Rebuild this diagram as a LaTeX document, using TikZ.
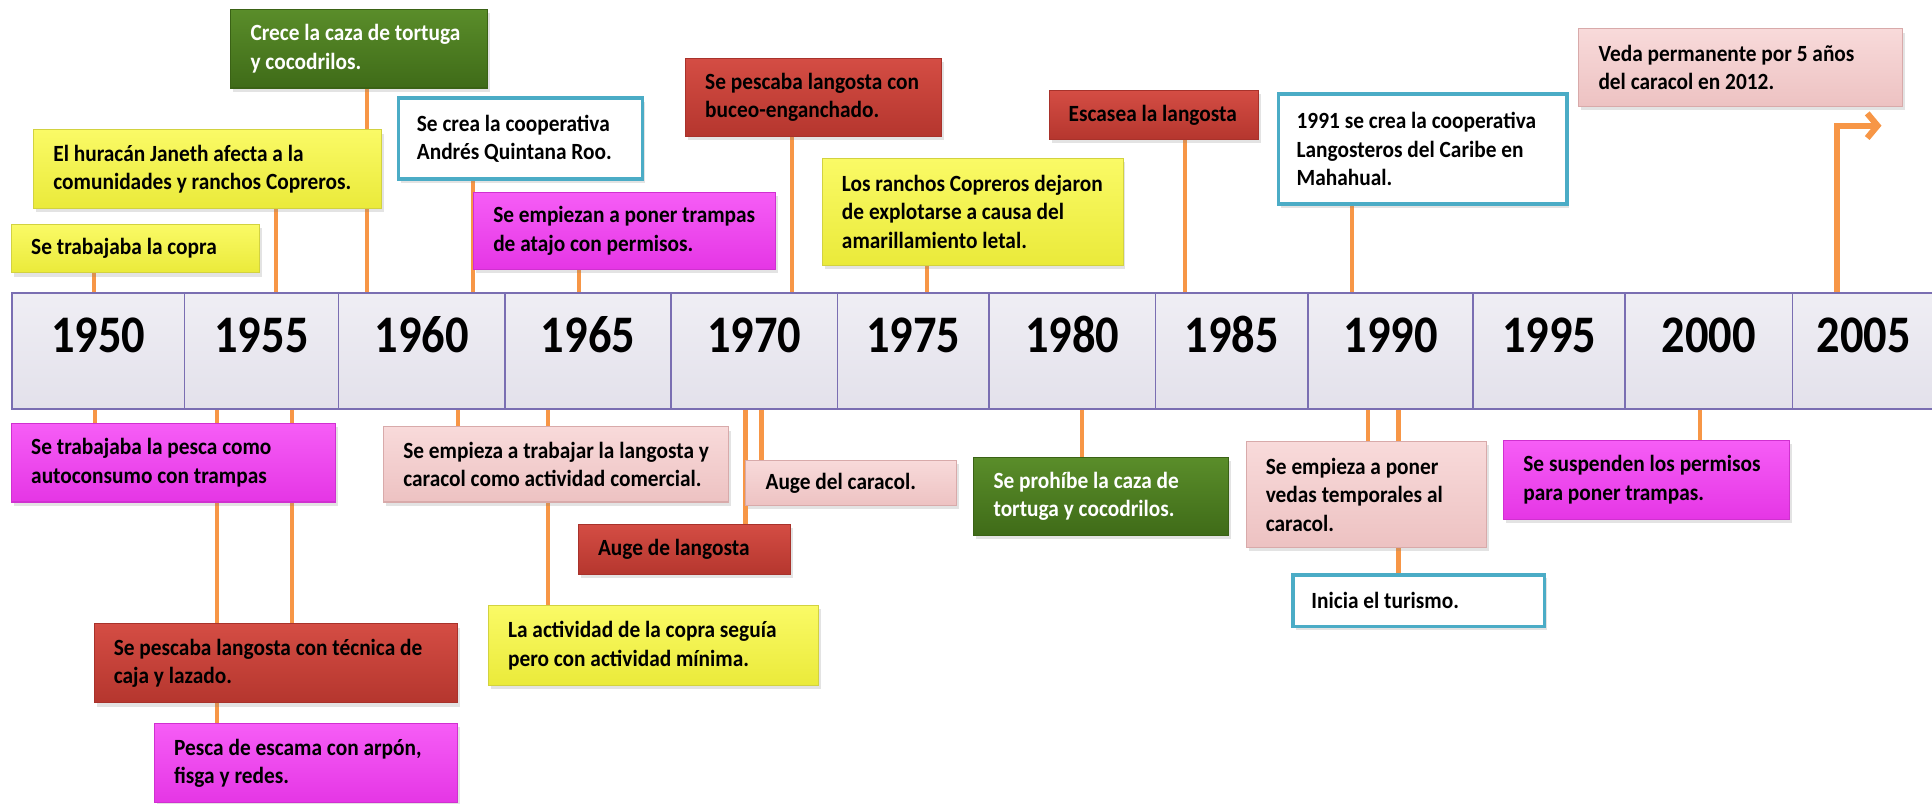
\documentclass[tikz,border=0pt]{standalone}
\usepackage{fontspec}
\newfontfamily\evfont{Carlito}[FakeStretch=0.92]
\newfontfamily\yrfont{Carlito}[FakeStretch=0.88]
\usetikzlibrary{shadows,arrows.meta}
\pgfdeclarelayer{links}
\pgfsetlayers{links,main}

\definecolor{linkorange}{HTML}{F79646}
\definecolor{cellline}{HTML}{7A6EB2}
\definecolor{celltop}{HTML}{EFEEF4}
\definecolor{cellbot}{HTML}{E3E1EB}
\definecolor{yeltop}{HTML}{FAFA66}
\definecolor{yelbot}{HTML}{EAEA3A}
\definecolor{yelline}{HTML}{D2D240}
\definecolor{grntop}{HTML}{5A8D2A}
\definecolor{grnbot}{HTML}{3F6B18}
\definecolor{grnline}{HTML}{3A6215}
\definecolor{redtop}{HTML}{D44D44}
\definecolor{redbot}{HTML}{B5362E}
\definecolor{redline}{HTML}{A8322B}
\definecolor{magtop}{HTML}{F65DF6}
\definecolor{magbot}{HTML}{E536E5}
\definecolor{magline}{HTML}{D030D0}
\definecolor{pnktop}{HTML}{F8DADA}
\definecolor{pnkbot}{HTML}{EDC2C2}
\definecolor{pnkline}{HTML}{D8AAAA}
\definecolor{tealline}{HTML}{4BACC6}

\tikzset{
  evbase/.style={inner sep=0pt, line width=0.5pt,
    drop shadow={opacity=0.22, shadow xshift=1.2pt, shadow yshift=-1.8pt}},
  yelbox/.style={evbase, draw=yelline, top color=yeltop, bottom color=yelbot},
  grnbox/.style={evbase, draw=grnline, top color=grntop, bottom color=grnbot},
  redbox/.style={evbase, draw=redline, top color=redtop, bottom color=redbot},
  magbox/.style={evbase, draw=magline, top color=magtop, bottom color=magbot},
  pnkbox/.style={evbase, draw=pnkline, top color=pnktop, bottom color=pnkbot},
  tealbox/.style={evbase, draw=tealline, line width=1.8pt, fill=white},
  evtext/.style={anchor=west, inner sep=0pt, align=left, text=black,
    font=\evfont\bfseries\fontsize{11.3}{13.8}\selectfont},
  evlight/.style={evtext, text=white},
  yearcell/.style={draw=cellline, line width=0.9pt, top color=celltop,
    bottom color=cellbot, inner sep=0pt, text height=29.1pt, text depth=27.3pt,
    font=\yrfont\bfseries\fontsize{25.7}{30}\selectfont},
  link/.style={draw=linkorange, line width=2pt},
  bigarrow/.style={draw=linkorange, line width=3pt,
    -{Straight Barb[length=5pt,width=12pt]}},
}

% event box: name, box style, text style, x1, y1, x2, y2, text
\newcommand\evbox[8]{%
  \pgfmathsetmacro\tlbw{(#6-#4)*0.6}%
  \pgfmathsetmacro\tlbh{(#7-#5)*0.6}%
  \node[#2, minimum width=\tlbw pt, minimum height=\tlbh pt, anchor=north west] (#1) at (#4,#5) {};%
  \node[#3] (#1t) at ([xshift=9.6pt]#1.west) {#8};%
}
% year cell of the time bar: name, x1, x2, label
\newcommand\yearcell[4]{%
  \pgfmathsetmacro\tlcw{(#3-#2)*0.6}%
  \node[yearcell, minimum width=\tlcw pt, anchor=north west] (#1) at (#2,237) {#4};%
}

\begin{document}
\begin{tikzpicture}[x=0.6pt, y=-0.6pt]
\useasboundingbox (0,0) rectangle (1568,652);
\clip (0,0) rectangle (1568,652);

% time bar
\yearcell{y1950}{9}{149}{1950}
\yearcell{y1955}{149}{274}{1955}
\yearcell{y1960}{274}{409}{1960}
\yearcell{y1965}{409}{544}{1965}
\yearcell{y1970}{544}{679}{1970}
\yearcell{y1975}{679}{802}{1975}
\yearcell{y1980}{802}{937}{1980}
\yearcell{y1985}{937}{1061}{1985}
\yearcell{y1990}{1061}{1195}{1990}
\yearcell{y1995}{1195}{1318}{1995}
\yearcell{y2000}{1318}{1454}{2000}
\yearcell{y2005}{1454}{1570}{2005}

% events above the bar
\evbox{b1}{yelbox}{evtext}{9}{182}{210}{221}{Se trabajaba la copra}
\evbox{b2}{yelbox}{evtext}{27}{105}{309}{169}{El huracán Janeth afecta a la\\comunidades y ranchos Copreros.}
\evbox{b3}{grnbox}{evlight}{187}{7}{395}{71}{Crece la caza de tortuga\\y cocodrilos.}
\evbox{b4}{tealbox}{evtext}{322}{78}{520}{144}{Se crea la cooperativa\\Andrés Quintana Roo.}
\evbox{b5}{magbox}{evtext}{384}{156}{629}{218}{Se empiezan a poner trampas\\de atajo con permisos.}
\evbox{b6}{redbox}{evtext}{556}{47}{764}{110}{Se pescaba langosta con\\buceo-enganchado.}
\evbox{b7}{yelbox}{evtext}{667}{128}{911}{215}{Los ranchos Copreros dejaron\\de explotarse a causa del\\amarillamiento letal.}
\evbox{b8}{redbox}{evtext}{851}{73}{1021}{113}{Escasea la langosta}
\evbox{b9}{tealbox}{evtext}{1036}{75}{1270}{164}{1991 se crea la cooperativa\\Langosteros del Caribe en\\Mahahual.}
\evbox{b10}{pnkbox}{evtext}{1281}{23}{1544}{86}{Veda permanente por 5 años\\del caracol en 2012.}

% events below the bar
\evbox{b11}{magbox}{evtext}{9}{343}{272}{407}{Se trabajaba la pesca como\\autoconsumo con trampas}
\evbox{b12}{redbox}{evtext}{76}{506}{371}{570}{Se pescaba langosta con técnica de\\caja y lazado.}
\evbox{b13}{magbox}{evtext}{125}{587}{371}{651}{Pesca de escama con arpón,\\fisga y redes.}
\evbox{b14}{pnkbox}{evtext}{311}{346}{591}{407}{Se empieza a trabajar la langosta y\\caracol como actividad comercial.}
\evbox{b15}{redbox}{evtext}{469}{425}{641}{466}{Auge de langosta}
\evbox{b16}{yelbox}{evtext}{396}{491}{664}{556}{La actividad de la copra seguía\\pero con actividad mínima.}
\evbox{b17}{pnkbox}{evtext}{605}{373}{776}{410}{Auge del caracol.}
\evbox{b18}{grnbox}{evlight}{790}{371}{997}{434}{Se prohíbe la caza de\\tortuga y cocodrilos.}
\evbox{b19}{pnkbox}{evtext}{1011}{358}{1206}{444}{Se empieza a poner\\vedas temporales al\\caracol.}
\evbox{b20}{tealbox}{evtext}{1048}{465}{1252}{507}{Inicia el turismo.}
\evbox{b21}{magbox}{evtext}{1220}{357}{1452}{421}{Se suspenden los permisos\\para poner trampas.}

% vertical positions of the links along the bar
\coordinate (t1) at (76,0);
\coordinate (t2) at (224,0);
\coordinate (t3) at (298,0);
\coordinate (t4) at (384,0);
\coordinate (t5) at (470,0);
\coordinate (t6) at (643,0);
\coordinate (t7) at (752,0);
\coordinate (t8) at (962,0);
\coordinate (t9) at (1097,0);
\coordinate (u1) at (77,0);
\coordinate (u2) at (176,0);
\coordinate (u3) at (237,0);
\coordinate (u4) at (371.5,0);
\coordinate (u5) at (445,0);
\coordinate (u6) at (605,0);
\coordinate (u7) at (618,0);
\coordinate (u8) at (878,0);
\coordinate (u9) at (1110,0);
\coordinate (u10) at (1135,0);
\coordinate (u11) at (1380,0);
\coordinate (k2005) at (1491,0);
\coordinate (arrowtip) at (1527,102);

\begin{pgfonlayer}{links}
  \draw[link] (b1.south -| t1) -- (y1950.north -| t1);
  \draw[link] (b2.south -| t2) -- (y1955.north -| t2);
  \draw[link] (b3.south -| t3) -- (y1960.north -| t3);
  \draw[link] (b4.south -| t4) -- (y1960.north -| t4);
  \draw[link] (b5.south -| t5) -- (y1965.north -| t5);
  \draw[link] (b6.south -| t6) -- (y1970.north -| t6);
  \draw[link] (b7.south -| t7) -- (y1975.north -| t7);
  \draw[link] (b8.south -| t8) -- (y1985.north -| t8);
  \draw[link] (b9.south -| t9) -- (y1990.north -| t9);

  \draw[link] (y1950.south -| u1) -- (b11.north -| u1);
  \draw[link] (y1955.south -| u2) -- (b13.north -| u2);
  \draw[link] (y1955.south -| u3) -- (b12.north -| u3);
  \draw[link] (y1960.south -| u4) -- (b14.north -| u4);
  \draw[link] (y1965.south -| u5) -- (b16.north -| u5);
  \draw[link] (y1970.south -| u6) -- (b15.north -| u6);
  \draw[link] (y1970.south -| u7) -- (b17.north -| u7);
  \draw[link] (y1980.south -| u8) -- (b18.north -| u8);
  \draw[link] (y1990.south -| u9) -- (b19.north -| u9);
  \draw[link] (y1990.south -| u10) -- (b20.north -| u10);
  \draw[link] (y2000.south -| u11) -- (b21.north -| u11);
\end{pgfonlayer}

% arrow continuing past 2005
\draw[bigarrow] (y2005.north -| k2005) |- (arrowtip);
\end{tikzpicture}
\end{document}
